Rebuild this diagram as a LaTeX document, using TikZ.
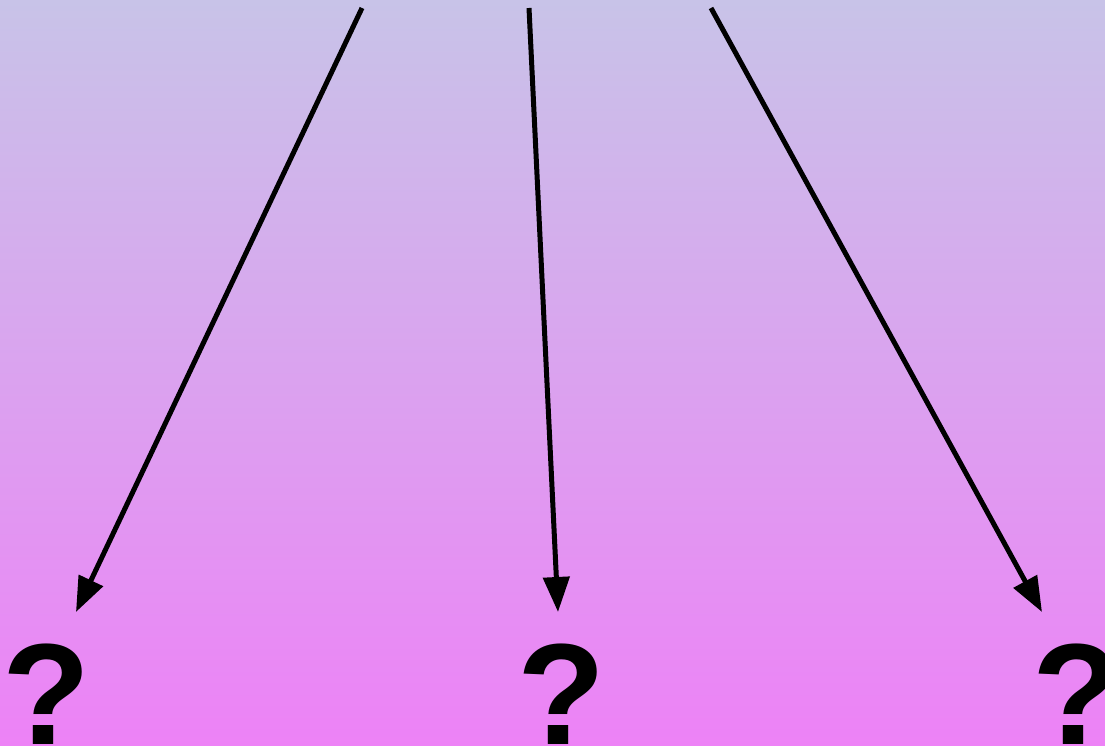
\documentclass[tikz,border=0pt]{standalone}
\usepackage{fontspec}
\setmainfont{Liberation Sans}
\usepackage{xcolor}
\usepackage{tikz}
\usetikzlibrary{arrows.meta}
\definecolor{skytop}{RGB}{200,195,232}
\definecolor{skybottom}{RGB}{237,130,246}

\begin{document}
\begin{tikzpicture}[x=0.02cm, y=-0.02cm,
  guess/.style={font=\bfseries\fontsize{82}{82}\selectfont, inner sep=0pt, anchor=base},
  branch/.style={line width=0.1cm, -{Triangle[length=0.7cm,width=0.52cm]}}]
\useasboundingbox (0,0) rectangle (1105,746);
\shade[top color=skytop, bottom color=skybottom] (0,0) rectangle (1105,746);
\coordinate (s1) at (362,8);
\coordinate (s2) at (529,8);
\coordinate (s3) at (711,8);
\coordinate (t1) at (76,612);
\coordinate (t2) at (558,612);
\coordinate (t3) at (1042,612);
\node[guess] (q1) at (47,744) {?};
\node[guess] (q2) at (561,744) {?};
\node[guess] (q3) at (1076,744) {?};
\draw[branch] (s1) -- (t1);
\draw[branch] (s2) -- (t2);
\draw[branch] (s3) -- (t3);
\end{tikzpicture}
\end{document}
